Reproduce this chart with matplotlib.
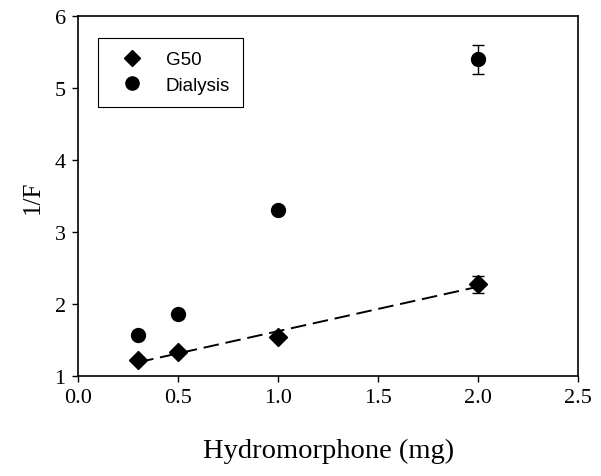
import matplotlib.pyplot as plt
from matplotlib.lines import Line2D
import numpy as np

# G50 and dialysis data
dose = [0.3, 0.5, 1.0, 2.0]
g50 = [1.22, 1.33, 1.54, 2.27]
g50_err = [0.0, 0.0, 0.0, 0.12]
dialysis = [1.57, 1.86, 3.31, 5.40]
dialysis_err = [0.0, 0.0, 0.0, 0.20]

xticks = [0.0, 0.5, 1.0, 1.5, 2.0, 2.5]
yticks = [1, 2, 3, 4, 5, 6]

fig = plt.figure(figsize=(6.01, 4.77), dpi=100)
ax = fig.add_axes([0.130, 0.210, 0.832, 0.754])

serif = "Liberation Serif"

ax.errorbar(dose, g50, yerr=g50_err, fmt="D", color="black", ms=9,
            capsize=4.5, elinewidth=1, capthick=1, zorder=3)
ax.errorbar(dose, dialysis, yerr=dialysis_err, fmt="o", color="black", ms=10,
            capsize=4.5, elinewidth=1, capthick=1, zorder=3)

# linear fit through G50
slope, icpt = np.polyfit(dose, g50, 1)
xl = np.array([dose[0], dose[-1]])
ax.plot(xl, slope * xl + icpt, color="black", lw=1.4, dashes=(8, 3.5), zorder=2)

ax.set_xlim(0, 2.5)
ax.set_ylim(1, 6)
ax.set_xticks(xticks)
ax.set_xticklabels([f"{v:.1f}" for v in xticks])
ax.set_yticks(yticks)
ax.tick_params(direction="out", length=4, width=1, labelsize=16, pad=5)
for lab in ax.get_xticklabels() + ax.get_yticklabels():
    lab.set_fontfamily(serif)
for s in ax.spines.values():
    s.set_linewidth(1.2)

ax.set_xlabel("Hydromorphone (mg)", fontfamily=serif, fontsize=20.5, labelpad=22)
ax.set_ylabel("1/F", fontfamily=serif, fontsize=18, labelpad=8)

handles = [
    Line2D([], [], ls="none", marker="D", color="black", ms=8),
    Line2D([], [], ls="none", marker="o", color="black", ms=9.5),
]
leg = ax.legend(handles, ["G50", "Dialysis"], loc="upper left",
                bbox_to_anchor=(0.04, 0.939), borderaxespad=0, frameon=True,
                fancybox=False, edgecolor="black", framealpha=1,
                prop={"family": "Liberation Sans", "size": 13.5},
                handletextpad=0.7, borderpad=0.7, labelspacing=0.45,
                handlelength=2.2)
leg.get_frame().set_linewidth(0.8)

fig.savefig("out.png", dpi=100)
